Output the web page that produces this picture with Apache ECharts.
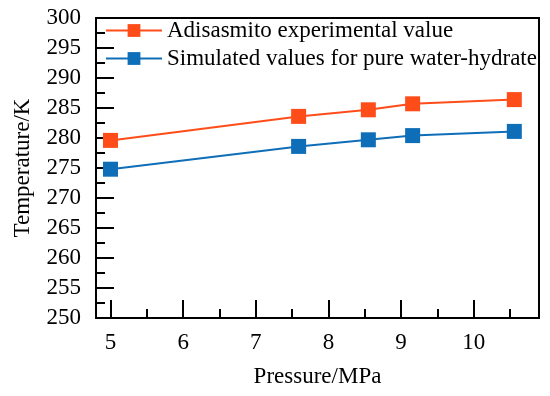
<!DOCTYPE html>
<html><head><meta charset="utf-8">
<script src="https://cdn.jsdelivr.net/npm/echarts@6/dist/echarts.min.js"></script>
<style>html,body{margin:0;padding:0;background:#fff}#c{width:550px;height:396px}</style>
</head><body><div id="c"></div>
<script>
var pressure = [5.0, 7.59, 8.55, 9.16, 10.56];
var experimental = [279.6, 283.6, 284.7, 285.7, 286.4];
var simulated = [274.8, 278.6, 279.7, 280.4, 281.1];
var seriesNames = ['Adisasmito experimental value', 'Simulated values for pure water-hydrate'];
var xMajor = [5, 6, 7, 8, 9, 10];
var xMinor = [5.5, 6.5, 7.5, 8.5, 9.5, 10.5];

var font = 'Liberation Serif, Times New Roman, serif';
var fs = 23;
var chart = echarts.init(document.getElementById('c'));
function pairs(xs, ys){ return xs.map(function(x,i){return [x, ys[i]];}); }
chart.setOption({
  animation: false,
  textStyle: {fontFamily: font, color: '#000'},
  grid: {left: 96, right: 11, top: 18, bottom: 78, show: true, borderColor: '#000', borderWidth: 2, outerBoundsMode: 'none', containLabel: false},
  legend: {
    orient: 'vertical', left: 100, top: 14, itemWidth: 56, itemHeight: 16, itemGap: 5,
    textStyle: {fontFamily: font, fontSize: fs, color: '#000'},
    data: seriesNames
  },
  xAxis: [{
    type: 'value', min: 4.8, max: 10.9,
    name: 'Pressure/MPa', nameLocation: 'middle', nameGap: 47,
    nameTextStyle: {fontFamily: font, fontSize: fs, color: '#000'},
    axisLine: {lineStyle: {color: '#000', width: 2}},
    axisTick: {inside: true, length: 18, lineStyle: {color: '#000', width: 2}, customValues: xMajor},
    axisLabel: {fontFamily: font, fontSize: fs, color: '#000', margin: 13, customValues: xMajor},
    splitLine: {show: false}
  }, {
    type: 'value', min: 4.8, max: 10.9, position: 'bottom',
    axisLine: {show: false},
    axisTick: {inside: true, length: 9, lineStyle: {color: '#000', width: 2}, customValues: xMinor},
    axisLabel: {show: false},
    splitLine: {show: false}
  }],
  yAxis: {
    type: 'value', min: 250, max: 300, interval: 5,
    name: 'Temperature/K', nameLocation: 'middle', nameGap: 62,
    nameTextStyle: {fontFamily: font, fontSize: fs, color: '#000'},
    axisLine: {lineStyle: {color: '#000', width: 2}},
    axisTick: {inside: true, length: 18, lineStyle: {color: '#000', width: 2}},
    minorTick: {show: true, splitNumber: 2, length: 9, lineStyle: {color: '#000', width: 2}},
    axisLabel: {fontFamily: font, fontSize: fs, color: '#000', margin: 15},
    splitLine: {show: false}
  },
  series: [{
    name: seriesNames[0], type: 'line', data: pairs(pressure, experimental),
    symbol: 'rect', symbolSize: 15, color: '#FF4D1A', lineStyle: {width: 2},
    itemStyle: {color: '#FF4D1A'}
  }, {
    name: seriesNames[1], type: 'line', data: pairs(pressure, simulated),
    symbol: 'rect', symbolSize: 15, color: '#0E6EB8', lineStyle: {width: 2},
    itemStyle: {color: '#0E6EB8'}
  }]
});
</script></body></html>
